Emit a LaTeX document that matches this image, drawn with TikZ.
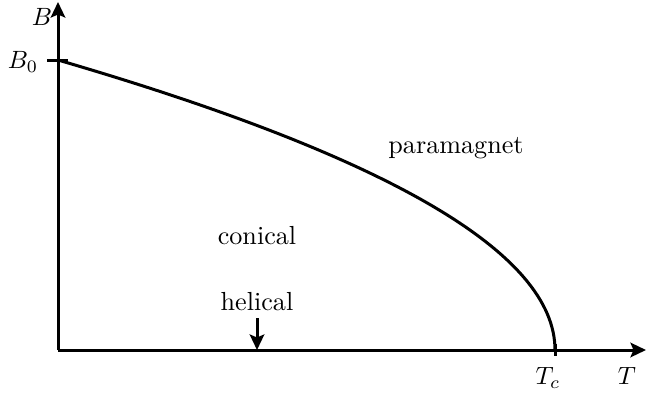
\documentclass[tikz,border=0pt]{standalone}
\usetikzlibrary{arrows.meta}
\begin{document}
\begin{tikzpicture}[x=0.4pt,y=-0.4pt,
  axis/.style={line width=1.2pt,-{Stealth[length=6.2pt,width=5.8pt,inset=1.2pt]}},
  curve/.style={line width=1.2pt},
  lbl/.style={inner sep=0pt,font=\fontsize{10.45}{12}\selectfont}]
\useasboundingbox (0,0) rectangle (646,394);
\coordinate (O) at (58,350);
\coordinate (ytop) at (58,2);
\coordinate (xend) at (646,350);
\coordinate (b0) at (58,60);
\coordinate (b0l) at (47,60);
\coordinate (b0r) at (68,60);
\coordinate (tct) at (555,344);
\coordinate (tc) at (555,350);
\coordinate (tcb) at (555,356);
\draw[axis] (O) -- (ytop);
\draw[axis] (O) -- (xend);
\draw[curve] (b0l) -- (b0r);
\draw[curve] (tct) -- (tcb);
\draw[curve] (b0) .. controls (389.3,156.7) and (555,253.3) .. (tc);
\node[lbl] (B) at (42,17) {$B$};
\node[lbl] (B0) at (23,62) {$B_0$};
\node[lbl] (Tc) at (548,378) {$T_c$};
\node[lbl] (T) at (627,376) {$T$};
\node[lbl] (para) at (456,148) {paramagnet};
\node[lbl] (con) at (257,236) {conical};
\node[lbl] (hel) at (257,302) {helical};
\coordinate (helax) at (257,350);
\coordinate (hs) at (257,318);
\draw[axis] (hs) -- (helax);
\end{tikzpicture}
\end{document}
